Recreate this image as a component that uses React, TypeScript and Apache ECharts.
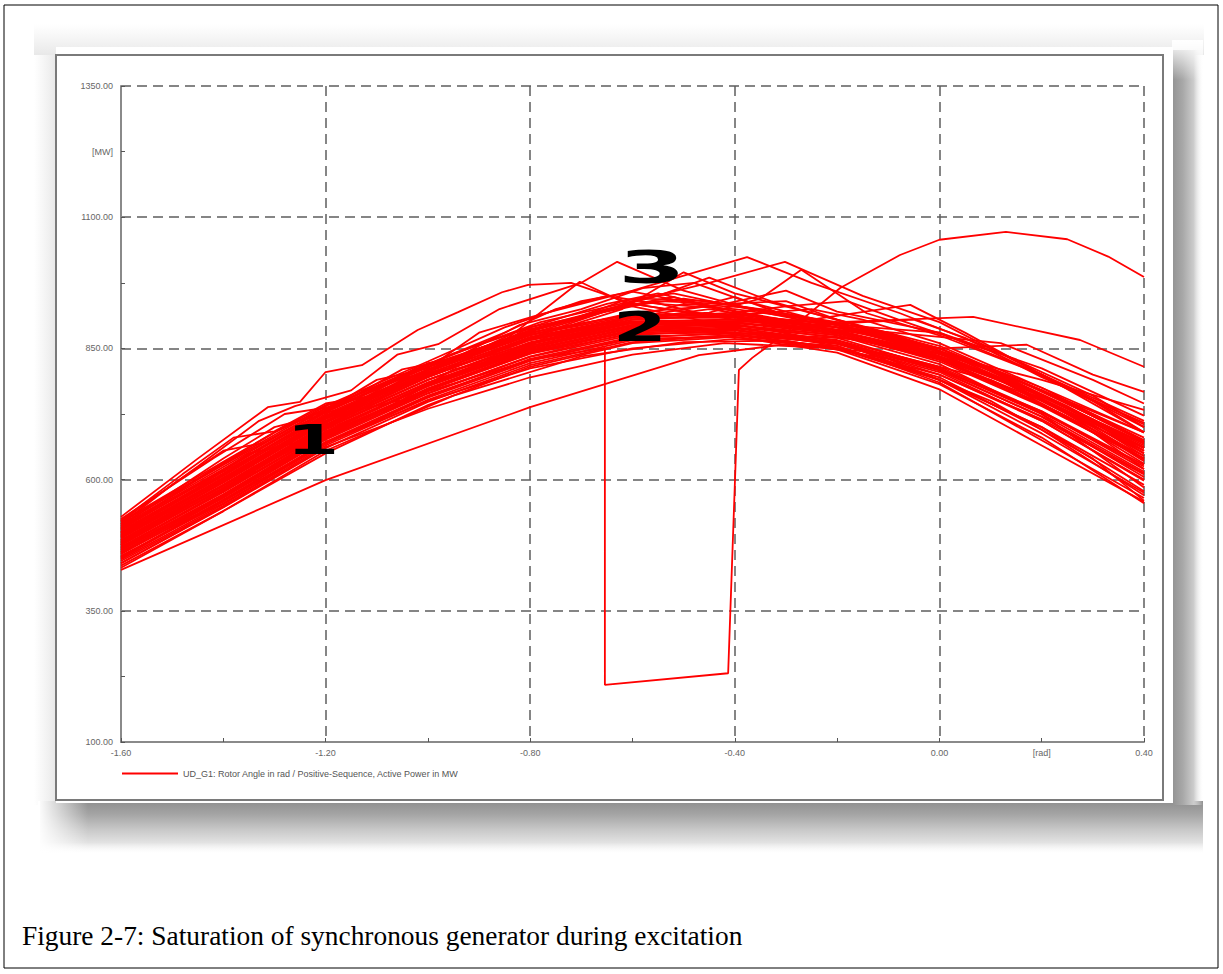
import React, { useEffect, useRef } from "react";
import * as echarts from "echarts";

const seriesName = "UD_G1: Rotor Angle in rad / Positive-Sequence, Active Power in MW";
const caption = "Figure 2-7: Saturation of synchronous generator during excitation";
const yUnitLabel = "[MW]";
const xUnitLabel = "[rad]";
const yLabelValues = [100, 350, 600, 850, 1100, 1225, 1350];
const xLabelValues = [-1.6, -1.2, -0.8, -0.4, 0, 0.2, 0.4];
const yUnitAt = 1225;
const xUnitAt = 0.2;
const markerTexts = ["1", "2", "3"];

const curve01 = [[-1.6, 428], [-1.2, 599], [-0.8, 738], [-0.47, 837], [-0.3, 858], [-0.1, 840], [0.1, 790], [0.25, 720], [0.4, 630]];
const curve02 = [[-1.6, 441], [-1.4, 548], [-1.2, 662], [-1.0, 735], [-0.8, 795], [-0.6, 838], [-0.42, 860], [-0.2, 850], [0.0, 800], [0.2, 712], [0.4, 600]];
const curve03 = [[-1.6, 450], [-1.4, 560], [-1.2, 670], [-1.0, 750], [-0.8, 812], [-0.6, 850], [-0.4, 868], [-0.2, 855], [0.0, 790], [0.2, 700], [0.4, 578]];
const curve04 = [[-1.6, 436], [-1.4, 540], [-1.2, 655], [-0.95, 760], [-0.7, 835], [-0.5, 862], [-0.3, 865], [-0.1, 830], [0.1, 750], [0.3, 640], [0.4, 560]];
const curve05 = [[-1.6, 529], [-1.45, 640], [-1.313, 738], [-1.25, 748], [-1.2, 805], [-1.129, 818], [-1.02, 885], [-0.941, 919], [-0.855, 957], [-0.804, 971], [-0.72, 975], [-0.6, 935], [-0.4, 905], [-0.2, 880], [0.0, 830], [0.2, 760], [0.4, 670]];
const curve06 = [[-1.6, 520], [-1.45, 625], [-1.33, 712], [-1.26, 740], [-1.15, 770], [-1.06, 838], [-0.98, 858], [-0.86, 925], [-0.7, 975], [-0.63, 1015], [-0.5, 960], [-0.35, 920], [-0.15, 880], [0.05, 820], [0.25, 730], [0.4, 650]];
const curve07 = [[-1.6, 512], [-1.4, 640], [-1.3, 700], [-1.22, 720], [-1.1, 790], [-1.0, 812], [-0.9, 880], [-0.78, 915], [-0.6, 960], [-0.376, 1024], [-0.25, 975], [-0.077, 917], [0.1, 850], [0.3, 760], [0.4, 700]];
const curve08 = [[-1.6, 505], [-1.42, 620], [-1.3, 690], [-1.18, 745], [-1.05, 800], [-0.92, 850], [-0.78, 900], [-0.6, 940], [-0.45, 975], [-0.302, 1015], [-0.15, 950], [0.0, 900], [0.2, 800], [0.4, 690]];
const curve09 = [[-1.6, 498], [-1.4, 608], [-1.2, 720], [-1.0, 805], [-0.85, 865], [-0.703, 977], [-0.6, 930], [-0.4, 890], [-0.2, 860], [0.0, 810], [0.2, 730], [0.4, 620]];
const curve10 = [[-1.6, 490], [-1.4, 600], [-1.22, 700], [-1.05, 790], [-0.9, 850], [-0.75, 900], [-0.55, 950], [-0.45, 985], [-0.33, 940], [-0.15, 890], [0.05, 830], [0.25, 740], [0.4, 660]];
const curve11 = [[-1.6, 485], [-1.4, 590], [-1.2, 705], [-1.0, 795], [-0.8, 870], [-0.62, 925], [-0.5, 995], [-0.4, 955], [-0.2, 905], [0.0, 850], [0.2, 770], [0.4, 680]];
const curve12 = [[-1.6, 480], [-1.38, 600], [-1.2, 690], [-1.0, 780], [-0.8, 860], [-0.6, 910], [-0.42, 935], [-0.3, 960], [-0.2, 920], [0.0, 880], [0.2, 800], [0.4, 712]];
const curve13 = [[-1.6, 495], [-1.4, 598], [-1.2, 715], [-1.0, 800], [-0.8, 860], [-0.6, 900], [-0.4, 905], [-0.2, 900], [0.066, 910], [0.275, 866], [0.4, 815]];
const curve14 = [[-1.6, 470], [-1.4, 580], [-1.2, 690], [-1.0, 780], [-0.8, 850], [-0.6, 895], [-0.4, 880], [-0.2, 870], [0.0, 850], [0.171, 857], [0.3, 800], [0.4, 767]];
const curve15 = [[-1.6, 465], [-1.4, 570], [-1.2, 685], [-1.0, 770], [-0.8, 840], [-0.6, 885], [-0.4, 890], [-0.2, 872], [0.0, 840], [0.2, 790], [0.4, 733]];
const curve16 = [[-1.6, 475], [-1.4, 585], [-1.2, 700], [-1.0, 785], [-0.8, 855], [-0.6, 895], [-0.4, 900], [-0.25, 905], [-0.057, 933], [0.05, 880], [0.2, 800], [0.4, 700]];
const curve17 = [[-1.6, 460], [-1.4, 560], [-1.2, 680], [-1.0, 765], [-0.8, 835], [-0.6, 880], [-0.4, 885], [-0.2, 860], [0.0, 800], [0.2, 715], [0.4, 610]];
const curve18 = [[-1.6, 455], [-1.4, 555], [-1.2, 670], [-1.0, 758], [-0.8, 830], [-0.6, 872], [-0.4, 878], [-0.2, 850], [0.0, 790], [0.2, 700], [0.4, 590]];
const curve19 = [[-1.6, 500], [-1.4, 610], [-1.2, 725], [-1.0, 810], [-0.8, 880], [-0.6, 915], [-0.4, 910], [-0.2, 880], [0.0, 825], [0.2, 740], [0.4, 640]];
const curve20 = [[-1.6, 510], [-1.4, 620], [-1.25, 705], [-1.1, 775], [-0.95, 840], [-0.8, 890], [-0.65, 935], [-0.55, 955], [-0.4, 920], [-0.2, 885], [0.0, 830], [0.2, 745], [0.4, 645]];
const curve21 = [[-1.6, 518], [-1.4, 630], [-1.2, 740], [-1.0, 825], [-0.85, 890], [-0.7, 940], [-0.6, 958], [-0.45, 930], [-0.25, 895], [0.0, 835], [0.2, 755], [0.4, 660]];
const curve22 = [[-1.6, 490], [-1.4, 595], [-1.2, 712], [-1.0, 798], [-0.8, 868], [-0.6, 905], [-0.42, 912], [-0.25, 925], [-0.15, 905], [0.0, 860], [0.2, 775], [0.4, 675]];
const curve23 = [[-1.6, 478], [-1.4, 582], [-1.2, 695], [-1.0, 778], [-0.8, 848], [-0.6, 890], [-0.4, 895], [-0.2, 875], [0.0, 820], [0.2, 725], [0.4, 615]];
const curve24 = [[-1.6, 468], [-1.4, 572], [-1.2, 688], [-1.0, 772], [-0.8, 842], [-0.6, 882], [-0.4, 888], [-0.2, 865], [0.0, 808], [0.2, 720], [0.4, 605]];
const curve25 = [[-1.6, 503], [-1.4, 612], [-1.2, 728], [-1.0, 815], [-0.8, 885], [-0.65, 925], [-0.5, 945], [-0.35, 925], [-0.1, 880], [0.1, 810], [0.3, 710], [0.4, 650]];
const curve26 = [[-1.6, 483], [-1.4, 590], [-1.2, 705], [-1.0, 790], [-0.8, 862], [-0.6, 900], [-0.4, 900], [-0.2, 880], [0.0, 830], [0.2, 750], [0.4, 655]];
const curve27 = [[-1.6, 458], [-1.4, 565], [-1.2, 682], [-1.0, 770], [-0.8, 840], [-0.6, 878], [-0.4, 880], [-0.2, 858], [0.0, 805], [0.2, 712], [0.4, 598]];
const curve28 = [[-1.6, 445], [-1.4, 550], [-1.2, 665], [-1.0, 752], [-0.8, 822], [-0.6, 866], [-0.4, 875], [-0.2, 852], [0.0, 795], [0.2, 695], [0.4, 570]];
const curve29 = [[-1.6, 432], [-1.4, 540], [-1.2, 650], [-1.0, 742], [-0.8, 815], [-0.6, 860], [-0.4, 872], [-0.2, 848], [0.0, 782], [0.2, 680], [0.4, 555]];
const curve30 = [[-1.6, 525], [-1.42, 640], [-1.28, 725], [-1.18, 740], [-1.05, 810], [-0.95, 830], [-0.82, 895], [-0.7, 925], [-0.58, 965], [-0.48, 975], [-0.38, 940], [-0.2, 895], [0.0, 840], [0.2, 760], [0.4, 665]];
const curve31 = [[-1.6, 495], [-1.4, 603], [-1.2, 718], [-1.0, 802], [-0.8, 872], [-0.6, 910], [-0.45, 918], [-0.35, 945], [-0.27, 1000], [-0.142, 917], [0.0, 875], [0.2, 800], [0.4, 705]];
const curve32 = [[-1.6, 472], [-1.4, 578], [-1.2, 692], [-1.0, 782], [-0.8, 852], [-0.6, 892], [-0.4, 895], [-0.2, 870], [0.0, 812], [0.2, 728], [0.4, 625]];
const curve33 = [[-1.6, 488], [-1.4, 596], [-1.2, 710], [-1.0, 795], [-0.8, 866], [-0.6, 902], [-0.4, 905], [-0.2, 885], [-0.05, 850], [0.12, 790], [0.3, 700], [0.4, 640]];
const curve34 = [[-1.6, 462], [-1.4, 566], [-1.2, 678], [-1.0, 768], [-0.8, 828], [-0.654, 851], [-0.654, 209], [-0.413, 231], [-0.392, 809], [-0.366, 832], [-0.3, 880], [-0.194, 965], [-0.077, 1028], [0.0, 1057], [0.13, 1072], [0.25, 1058], [0.33, 1025], [0.4, 986]];
const curve35 = [[-1.6, 515], [-1.4, 628], [-1.2, 735], [-1.0, 818], [-0.8, 882], [-0.62, 930], [-0.52, 948], [-0.4, 915], [-0.2, 890], [0.0, 845], [0.2, 770], [0.4, 690]];
const curve36 = [[-1.6, 508], [-1.4, 615], [-1.2, 722], [-1.0, 808], [-0.8, 878], [-0.66, 918], [-0.56, 938], [-0.46, 915], [-0.3, 900], [-0.1, 862], [0.1, 800], [0.3, 705], [0.4, 645]];
const curve37 = [[-1.6, 493], [-1.4, 604], [-1.2, 716], [-1.0, 805], [-0.8, 875], [-0.6, 918], [-0.48, 928], [-0.4, 948], [-0.32, 920], [-0.15, 885], [0.05, 830], [0.25, 735], [0.4, 655]];
const curve38 = [[-1.6, 500], [-1.45, 585], [-1.35, 650], [-1.25, 672], [-1.15, 730], [-1.05, 752], [-0.95, 810], [-0.85, 832], [-0.75, 880], [-0.62, 905], [-0.5, 935], [-0.38, 928], [-0.2, 900], [0.0, 850], [0.2, 770], [0.4, 672]];
const curve39 = [[-1.6, 478], [-1.4, 588], [-1.2, 702], [-1.0, 790], [-0.8, 858], [-0.6, 905], [-0.45, 925], [-0.35, 910], [-0.2, 895], [0.0, 845], [0.2, 760], [0.4, 662]];
const curve40 = [[-1.6, 470], [-1.4, 576], [-1.2, 690], [-1.0, 778], [-0.8, 846], [-0.6, 888], [-0.4, 898], [-0.22, 888], [-0.1, 870], [0.1, 800], [0.3, 690], [0.4, 620]];
const curve41 = [[-1.6, 453], [-1.4, 562], [-1.2, 676], [-1.0, 764], [-0.8, 834], [-0.6, 876], [-0.4, 884], [-0.2, 866], [0.0, 815], [0.2, 730], [0.4, 628]];
const curve42 = [[-1.6, 440], [-1.4, 547], [-1.2, 660], [-1.0, 748], [-0.8, 818], [-0.6, 862], [-0.4, 876], [-0.2, 860], [0.0, 808], [0.2, 720], [0.4, 612]];
const curve43 = [[-1.6, 520], [-1.4, 634], [-1.3, 690], [-1.2, 742], [-1.1, 760], [-1.0, 822], [-0.9, 840], [-0.8, 890], [-0.68, 915], [-0.58, 945], [-0.45, 940], [-0.3, 915], [-0.1, 875], [0.1, 810], [0.3, 715], [0.4, 655]];
const curve44 = [[-1.6, 485], [-1.4, 594], [-1.2, 708], [-1.0, 796], [-0.8, 866], [-0.6, 908], [-0.4, 918], [-0.3, 930], [-0.18, 940], [-0.08, 905], [0.1, 845], [0.3, 750], [0.4, 690]];
const curve45 = [[-1.6, 462], [-1.4, 568], [-1.2, 683], [-1.0, 773], [-0.8, 843], [-0.6, 886], [-0.4, 893], [-0.2, 876], [0.0, 828], [0.2, 742], [0.4, 640]];
const curve46 = [[-1.6, 497], [-1.4, 607], [-1.2, 722], [-1.0, 808], [-0.8, 876], [-0.6, 912], [-0.4, 912], [-0.2, 890], [0.0, 840], [0.2, 758], [0.4, 668]];
const curve47 = [[-1.6, 448], [-1.4, 553], [-1.2, 668], [-1.0, 756], [-0.8, 826], [-0.6, 870], [-0.4, 880], [-0.2, 862], [0.0, 812], [0.2, 725], [0.4, 585]];
const curve48 = [[-1.6, 505], [-1.4, 618], [-1.2, 732], [-1.0, 815], [-0.8, 884], [-0.7, 908], [-0.6, 935], [-0.5, 920], [-0.36, 905], [-0.15, 880], [0.05, 825], [0.25, 725], [0.4, 638]];
const curve49 = [[-1.6, 512], [-1.4, 624], [-1.2, 736], [-1.0, 820], [-0.85, 880], [-0.75, 925], [-0.65, 950], [-0.55, 935], [-0.4, 925], [-0.25, 905], [-0.05, 860], [0.15, 790], [0.4, 675]];
const curve50 = [[-1.6, 475], [-1.4, 583], [-1.2, 698], [-1.0, 785], [-0.8, 855], [-0.6, 898], [-0.4, 902], [-0.25, 895], [-0.05, 905], [0.05, 870], [0.2, 795], [0.4, 708]];
const curve51 = [[-1.6, 522], [-1.48, 610], [-1.38, 680], [-1.3, 692], [-1.2, 745], [-1.12, 758], [-1.02, 815], [-0.93, 835], [-0.83, 880], [-0.72, 905], [-0.62, 940], [-0.52, 955], [-0.4, 930], [-0.2, 895], [0.0, 850], [0.2, 775], [0.4, 690]];
const curve52 = [[-1.6, 515], [-1.5, 590], [-1.4, 655], [-1.32, 670], [-1.22, 725], [-1.14, 738], [-1.04, 795], [-0.96, 812], [-0.86, 862], [-0.76, 885], [-0.64, 925], [-0.55, 940], [-0.42, 935], [-0.3, 940], [-0.2, 905], [0.0, 855], [0.2, 770], [0.4, 672]];
const curve53 = [[-1.6, 452], [-1.4, 558], [-1.2, 672], [-1.0, 760], [-0.8, 828], [-0.6, 868], [-0.4, 872], [-0.2, 842], [0.0, 772], [0.2, 665], [0.4, 558]];
const curve54 = [[-1.6, 466], [-1.4, 571], [-1.2, 686], [-1.0, 774], [-0.8, 844], [-0.6, 884], [-0.4, 886], [-0.2, 855], [0.0, 785], [0.2, 675], [0.4, 565]];
const curve55 = [[-1.6, 481], [-1.4, 589], [-1.2, 703], [-1.0, 790], [-0.8, 858], [-0.6, 898], [-0.4, 896], [-0.2, 862], [0.0, 790], [0.2, 688], [0.4, 575]];
const curve56 = [[-1.6, 492], [-1.4, 601], [-1.2, 716], [-1.0, 802], [-0.8, 870], [-0.6, 908], [-0.4, 908], [-0.2, 890], [0.0, 872], [0.12, 860], [0.3, 790], [0.4, 745]];
const curve57 = [[-1.6, 507], [-1.4, 617], [-1.2, 730], [-1.0, 814], [-0.8, 880], [-0.6, 915], [-0.4, 915], [-0.2, 895], [0.0, 880], [0.2, 812], [0.4, 722]];
const curve58 = [[-1.6, 476], [-1.4, 584], [-1.2, 697], [-1.0, 784], [-0.8, 852], [-0.6, 894], [-0.4, 898], [-0.2, 878], [0.0, 830], [0.15, 785], [0.3, 695], [0.4, 635]];

const curves = [
  curve01, curve02, curve03, curve04, curve05, curve06, curve07, curve08, curve09, curve10,
  curve11, curve12, curve13, curve14, curve15, curve16, curve17, curve18, curve19, curve20,
  curve21, curve22, curve23, curve24, curve25, curve26, curve27, curve28, curve29, curve30,
  curve31, curve32, curve33, curve34, curve35, curve36, curve37, curve38, curve39, curve40,
  curve41, curve42, curve43, curve44, curve45, curve46, curve47, curve48, curve49, curve50,
  curve51, curve52, curve53, curve54, curve55, curve56, curve57, curve58,
];

const fmtNum = (v: number) => (Math.abs(v) < 1e-9 ? "0.00" : v.toFixed(2));

const lin = (x2: number, y2: number, stops: [number, string][]) => ({
  type: "linear",
  x: 0,
  y: 0,
  x2,
  y2,
  colorStops: stops.map(([offset, color]) => ({ offset, color })),
});

export default function App() {
  const ref = useRef<HTMLDivElement>(null);
  useEffect(() => {
    document.body.style.margin = "0";
    if (!ref.current) return;
    const chart = echarts.init(ref.current, null, { renderer: "svg" });
    const labelFont = "Liberation Sans";
    const gridLine = { show: true, lineStyle: { color: "#5e5e5e", width: 1.5, type: [10, 6] as any } };
    const option: any = {
      animation: false,
      backgroundColor: "#ffffff",
      color: ["#ff0000"],
      grid: { left: 121, top: 86, width: 1023, height: 656, containLabel: false, outerBoundsMode: "none" },
      legend: {
        data: [seriesName],
        left: 117,
        top: 764,
        icon: "rect",
        itemWidth: 56,
        itemHeight: 2,
        itemGap: 6,
        selectedMode: false,
        textStyle: { fontSize: 9, color: "#555", fontFamily: labelFont },
      },
      xAxis: {
        type: "value",
        min: -1.6,
        max: 0.4,
        interval: 0.4,
        axisLine: { show: true, onZero: false, lineStyle: { color: "#8a8a8a", width: 2 } },
        axisTick: { show: true, inside: true, length: 4, lineStyle: { color: "#555" } },
        minorTick: { show: true, splitNumber: 2, length: 4, lineStyle: { color: "#555" } },
        splitLine: gridLine,
        axisLabel: {
          customValues: xLabelValues,
          margin: 6,
          fontSize: 9,
          color: "#666",
          fontFamily: labelFont,
          showMinLabel: true,
          showMaxLabel: true,
          formatter: (v: number) => (Math.abs(v - xUnitAt) < 1e-6 ? xUnitLabel : fmtNum(v)),
        },
      },
      yAxis: {
        type: "value",
        min: 100,
        max: 1350,
        interval: 250,
        axisLine: { show: true, onZero: false, lineStyle: { color: "#8a8a8a", width: 2 } },
        axisTick: { show: true, inside: true, length: 4, lineStyle: { color: "#555" } },
        minorTick: { show: true, splitNumber: 2, length: 4, lineStyle: { color: "#555" } },
        splitLine: gridLine,
        axisLabel: {
          customValues: yLabelValues,
          margin: 8,
          fontSize: 9,
          color: "#666",
          fontFamily: labelFont,
          showMinLabel: true,
          showMaxLabel: true,
          formatter: (v: number) => (Math.abs(v - yUnitAt) < 1e-6 ? yUnitLabel : fmtNum(v)),
        },
      },
      series: curves.map((c) => ({
        name: seriesName,
        type: "line",
        data: c,
        symbol: "none",
        showSymbol: false,
        silent: true,
        z: 3,
        lineStyle: { color: "#ff0000", width: 1.8 },
      })),
      graphic: [
        {
          type: "rect",
          z: -30,
          silent: true,
          shape: { x: 4, y: 5, width: 1214, height: 963 },
          style: { fill: "#ffffff", stroke: "#000000", lineWidth: 1 },
        },
        {
          type: "rect",
          z: -29,
          silent: true,
          shape: { x: 34, y: 24, width: 1170, height: 31 },
          style: { fill: lin(0, 1, [[0, "rgba(235,235,235,0)"], [1, "#e8e8e8"]]) },
        },
        {
          type: "rect",
          z: -29,
          silent: true,
          shape: { x: 34, y: 55, width: 22, height: 750 },
          style: { fill: lin(1, 0, [[0, "rgba(235,235,235,0)"], [1, "#e8e8e8"]]) },
        },
        {
          type: "rect",
          z: -28,
          silent: true,
          shape: { x: 40, y: 801, width: 1163, height: 52 },
          style: { fill: lin(0, 1, [[0, "#8e8e8e"], [0.25, "#a4a4a4"], [0.55, "#c8c8c8"], [0.8, "#e2e2e2"], [1, "rgba(245,245,245,0)"]]) },
        },
        {
          type: "rect",
          z: -28,
          silent: true,
          shape: { x: 1172, y: 50, width: 31, height: 755 },
          style: { fill: lin(1, 0, [[0, "#929292"], [0.35, "#a8a8a8"], [0.7, "#cccccc"], [1, "rgba(245,245,245,0)"]]) },
        },
        {
          type: "rect",
          z: -27,
          silent: true,
          shape: { x: 38, y: 801, width: 50, height: 52 },
          style: { fill: lin(1, 0, [[0, "rgba(255,255,255,1)"], [1, "rgba(255,255,255,0)"]]) },
        },
        {
          type: "rect",
          z: -27,
          silent: true,
          shape: { x: 1172, y: 40, width: 31, height: 40 },
          style: { fill: lin(0, 1, [[0, "rgba(255,255,255,1)"], [1, "rgba(255,255,255,0)"]]) },
        },
        {
          type: "rect",
          z: -26,
          silent: true,
          shape: { x: 56, y: 47, width: 1117, height: 756 },
          style: { fill: "#ffffff" },
        },
        {
          type: "rect",
          z: -25,
          silent: true,
          shape: { x: 56, y: 55, width: 1107, height: 745 },
          style: { fill: "#ffffff", stroke: "#7a7a7a", lineWidth: 2 },
        },
        {
          type: "text",
          z: 100,
          silent: true,
          x: 313,
          y: 440,
          scaleX: 1.9,
          style: { text: markerTexts[0], font: "900 40px 'DejaVu Sans'", fill: "#000", align: "center", verticalAlign: "middle" },
        },
        {
          type: "text",
          z: 100,
          silent: true,
          x: 640,
          y: 327,
          scaleX: 1.95,
          style: { text: markerTexts[1], font: "900 40px 'DejaVu Sans'", fill: "#000", align: "center", verticalAlign: "middle" },
        },
        {
          type: "text",
          z: 100,
          silent: true,
          x: 652,
          y: 268,
          scaleX: 2.2,
          style: { text: markerTexts[2], font: "900 44px 'DejaVu Sans'", fill: "#000", align: "center", verticalAlign: "middle" },
        },
        {
          type: "text",
          z: 100,
          silent: true,
          x: 22,
          y: 936,
          style: { text: caption, font: "27.4px 'Liberation Serif'", fill: "#000", align: "left", verticalAlign: "middle" },
        },
      ],
    };
    chart.setOption(option);
    return () => chart.dispose();
  }, []);
  return <div ref={ref} style={{ width: 1223, height: 974 }} />;
}
